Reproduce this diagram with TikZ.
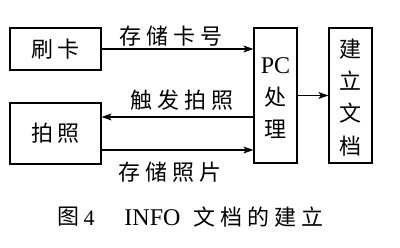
\documentclass[tikz,border=0pt]{standalone}
\usepackage{fontspec}
\setmainfont{Liberation Serif}
\newfontfamily\cjk{Noto Sans CJK SC}
\usetikzlibrary{arrows.meta}
\newcommand\gp{\hspace{5pt}}
\tikzset{
  box/.style={draw, line width=1.2pt, inner sep=0pt},
  lbl/.style={inner sep=0pt, font=\cjk\fontsize{22}{22}\selectfont},
  lat/.style={inner sep=0pt, font=\fontsize{24}{24}\selectfont},
  conn/.style={line width=1.2pt, -{Stealth[length=10pt,width=7pt,inset=2.5pt]}}
}
\begin{document}
\begin{tikzpicture}[x=1pt,y=-1pt]
\useasboundingbox (0,0) rectangle (400,248);
\node[box, minimum width=91pt, minimum height=42pt] (swipe) at (55.5,49) {};
\node[lbl] (swipet) at (55.5,49) {刷\gp 卡};
\node[box, minimum width=91pt, minimum height=61pt] (photo) at (55.5,133.5) {};
\node[lbl] (photot) at (55.5,133.5) {拍\gp 照};
\node[box, minimum width=43pt, minimum height=135pt] (pc) at (275.5,95.5) {};
\node[lat] (pct) at (275.5,66) {PC};
\node[lbl] (pc2) at (275.5,97) {处};
\node[lbl] (pc3) at (275.5,129) {理};
\node[box, minimum width=43pt, minimum height=135pt] (doc) at (350.5,95.5) {};
\node[lbl] (d1) at (350.5,49) {建};
\node[lbl] (d2) at (350.5,81) {立};
\node[lbl] (d3) at (350.5,113) {文};
\node[lbl] (d4) at (350.5,146) {档};
\coordinate (ytrig) at (0,117);
\coordinate (ystore) at (0,150);
\draw[conn] (swipe.east) -- (swipe.east -| pc.west);
\draw[conn] (pc.west |- ytrig) -- (photo.east |- ytrig);
\draw[conn] (photo.east |- ystore) -- (pc.west |- ystore);
\draw[conn] (pc.east) -- (doc.west);
\node[lbl] (l1) at (171,36) {存\gp 储\gp 卡\gp 号};
\node[lbl] (l2) at (182,100) {触\gp 发\gp 拍\gp 照};
\node[lbl] (l3) at (170,172) {存\gp 储\gp 照\gp 片};
\node[lbl] (c1) at (68,217) {图};
\node[lat, font=\fontsize{22}{22}\selectfont] (c2) at (89,218) {4};
\node[lat, font=\fontsize{24}{24}\selectfont] (c3) at (152.5,218) {INFO};
\node[lbl] (c4) at (258.5,217) {文\gp 档\gp 的\gp 建\gp 立};
\end{tikzpicture}
\end{document}
